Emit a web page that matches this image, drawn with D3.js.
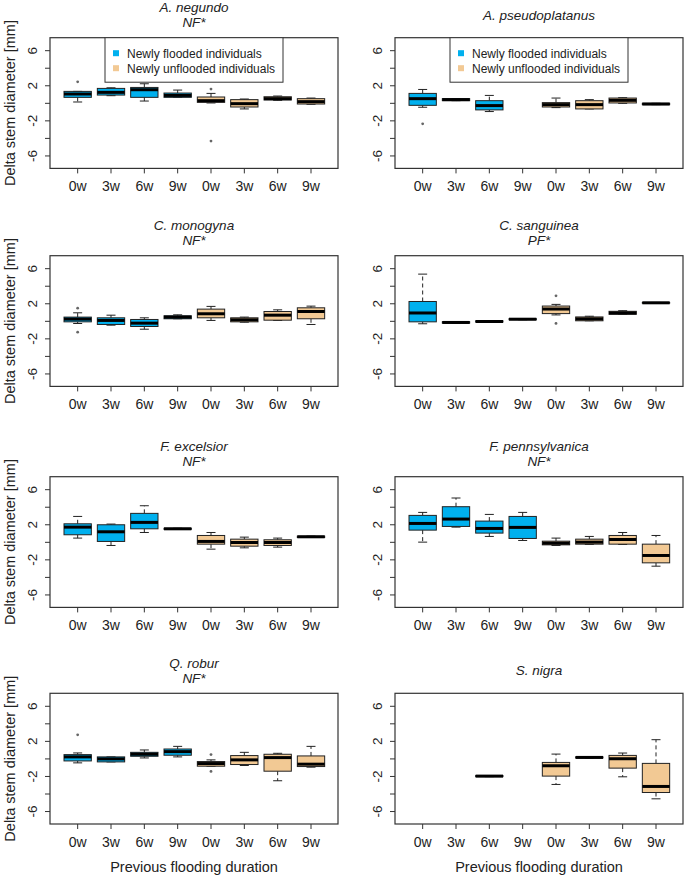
<!DOCTYPE html>
<html><head><meta charset="utf-8">
<script src="https://cdn.jsdelivr.net/npm/d3@7"></script>
<style>body{margin:0;background:#fff}svg{display:block}text{font-family:"Liberation Sans",Arial,sans-serif;fill:#222}</style>
</head><body><svg id="c" width="685" height="876"></svg>
<script>
// Categories
const groups = ["0w","3w","6w","9w","0w","3w","6w","9w"];
const treatment = ["flooded","flooded","flooded","flooded","unflooded","unflooded","unflooded","unflooded"];
const speciesNames = ["A. negundo","A. pseudoplatanus","C. monogyna","C. sanguinea","F. excelsior","F. pennsylvanica","Q. robur","S. nigra"];
const significance = ["NF*","","NF*","PF*","NF*","NF*","NF*",""];
const yTicks = [-6,-4,-2,0,2,4,6];
const yTickLabels = [6,2,-2,-6];
const legendLabels = ["Newly flooded individuals","Newly unflooded individuals"];

// Box statistics per group: [lower whisker, Q1, median, Q3, upper whisker]; null = no data
const negundo = [[0.15,0.68,1.06,1.36,1.36],[0.87,0.94,1.25,1.7,1.77],[0.26,0.68,1.55,1.81,2.23],[0.68,0.68,0.9,1.17,1.51],[0.04,0.11,0.3,0.72,1.13],[-0.64,-0.42,-0.04,0.42,0.49],[0.34,0.38,0.53,0.75,0.83],[-0.11,-0.08,0.19,0.53,0.6]];
const pseudoplatanus = [[-0.45,-0.23,0.53,1.13,1.58],[0.3,0.3,0.42,0.53,0.53],[-0.94,-0.75,-0.26,0.3,0.9],null,[-0.49,-0.42,-0.15,0.08,0.6],[-0.64,-0.64,-0.15,0.3,0.42],[0,0.04,0.34,0.6,0.64],[-0.15,-0.15,-0.08,0,0]];
const monogyna = [[-0.25,-0.06,0.25,0.48,0.97],[-0.44,-0.36,0.1,0.4,0.7],[-0.9,-0.59,-0.21,0.21,0.4],[0.29,0.29,0.48,0.63,0.74],[0.1,0.4,0.86,1.39,1.7],[-0.1,-0.06,0.17,0.4,0.48],[0.1,0.13,0.7,1.12,1.31],[-0.36,0.29,1.12,1.54,1.73]];
const sanguinea = [[-0.28,-0.06,0.95,2.26,5.38],[-0.2,-0.2,-0.13,-0.05,-0.05],[-0.08,-0.08,-0.02,0.05,0.05],[0.18,0.18,0.24,0.3,0.3],[0.73,0.88,1.4,1.74,1.93],[0.06,0.06,0.28,0.5,0.58],[0.8,0.8,0.95,1.14,1.21],[2.07,2.07,2.11,2.15,2.15]];
const excelsior = [[0.48,0.86,1.73,2.11,2.95],[-0.36,0.1,1.2,2.0,2.08],[1.12,1.54,2.27,3.3,4.17],[1.48,1.48,1.54,1.6,1.6],[-0.78,-0.21,0.1,0.78,1.12],[-0.63,-0.44,-0.02,0.36,0.59],[-0.55,-0.36,-0.02,0.29,0.48],[0.55,0.55,0.63,0.7,0.7]];
const pennsylvanica = [[0.02,1.39,2.15,3.07,3.41],[1.73,1.81,2.65,4.06,5.05],[0.67,1.05,1.58,2.42,3.18],[0.21,0.44,1.7,2.95,3.41],[-0.36,-0.29,-0.1,0.13,0.48],[-0.25,-0.21,0.02,0.36,0.67],[-0.25,-0.21,0.32,0.78,1.12],[-2.72,-2.34,-1.5,-0.21,0.78]];
const robur = [[-0.45,-0.23,0.23,0.49,0.68],[-0.34,-0.34,0,0.23,0.23],[0.11,0.3,0.53,0.75,1.02],[0.23,0.42,0.83,1.13,1.43],[-0.83,-0.83,-0.53,-0.3,-0.11],[-0.75,-0.64,-0.11,0.38,0.75],[-2.49,-1.4,0.15,0.53,0.64],[-0.94,-0.87,-0.6,0.34,1.43]];
const nigra = [null,null,[-2.02,-2.02,-1.96,-1.9,-1.9],null,[-2.91,-1.96,-0.78,-0.4,0.55],[0.11,0.11,0.17,0.23,0.23],[-2.04,-1.05,0.02,0.4,0.67],[-4.55,-3.83,-3.14,-0.51,2.19]];
const speciesStats = [negundo,pseudoplatanus,monogyna,sanguinea,excelsior,pennsylvanica,robur,nigra];

// Outliers: [group index (1-8), value]
const negundoOut = [[1,2.45],[5,1.62],[5,-4.3]];
const pseudoplatanusOut = [[1,-2.34]];
const monogynaOut = [[1,1.5],[1,-1.24]];
const sanguineaOut = [[5,2.9],[5,-0.24]];
const excelsiorOut = [];
const pennsylvanicaOut = [];
const roburOut = [[1,2.75],[5,0.49],[5,-1.43]];
const nigraOut = [];
const speciesOut = [negundoOut,pseudoplatanusOut,monogynaOut,sanguineaOut,excelsiorOut,pennsylvanicaOut,roburOut,nigraOut];

const colors = {flooded:"#00b0ee", unflooded:"#f2c994"};

const svg = d3.select("#c");
const colX = [50, 395];
const rowTop = [37.7, 255.7, 476.7, 693.3];
const pw = 288, ph = 130.7;

speciesNames.forEach((name, i) => {
  const col = i % 2, row = Math.floor(i / 2);
  const x0 = colX[col], y0 = rowTop[row];
  const x = d3.scaleLinear().domain([0.17, 8.81]).range([x0, x0 + pw]);
  const y = d3.scaleLinear().domain([-7.42, 7.48]).range([y0 + ph, y0]);
  const g = svg.append("g");
  const stats = speciesStats[i];
  const bw = (x(1.41) - x(1));
  const capW = 9;

  stats.forEach((s, j) => {
    if (!s) return;
    const cx = x(j + 1);
    const [lw, q1, md, q3, uw] = s;
    g.append("line").attr("x1", cx).attr("x2", cx).attr("y1", y(q3)).attr("y2", y(uw))
      .attr("stroke", "#222").attr("stroke-dasharray", "4,3");
    g.append("line").attr("x1", cx).attr("x2", cx).attr("y1", y(q1)).attr("y2", y(lw))
      .attr("stroke", "#222").attr("stroke-dasharray", "4,3");
    [lw, uw].forEach(v => g.append("line").attr("x1", cx - capW / 2).attr("x2", cx + capW / 2)
      .attr("y1", y(v)).attr("y2", y(v)).attr("stroke", "#222"));
    g.append("rect").attr("x", cx - bw).attr("width", bw * 2)
      .attr("y", y(q3)).attr("height", Math.max(0.5, y(q1) - y(q3)))
      .attr("fill", colors[treatment[j]]).attr("stroke", "#222").attr("stroke-width", 1);
    g.append("line").attr("x1", cx - bw).attr("x2", cx + bw).attr("y1", y(md)).attr("y2", y(md))
      .attr("stroke", "#000").attr("stroke-width", 3);
  });
  speciesOut[i].forEach(([gi, v]) => {
    g.append("circle").attr("cx", x(gi)).attr("cy", y(v)).attr("r", 1.4).attr("fill", "#666");
  });

  g.append("rect").attr("x", x0).attr("y", y0).attr("width", pw).attr("height", ph)
    .attr("fill", "none").attr("stroke", "#333").attr("stroke-width", 1.2);

  yTicks.forEach(t => g.append("line").attr("x1", x0 - 5).attr("x2", x0).attr("y1", y(t)).attr("y2", y(t)).attr("stroke", "#333"));
  yTickLabels.forEach(t => g.append("text").attr("transform", `translate(${x0 - 13},${y(t)}) rotate(-90)`)
    .attr("text-anchor", "middle").attr("font-size", 13.5).text(t));

  groups.forEach((lab, j) => {
    const cx = x(j + 1);
    g.append("line").attr("x1", cx).attr("x2", cx).attr("y1", y0 + ph).attr("y2", y0 + ph + 5).attr("stroke", "#333");
    g.append("text").attr("x", cx).attr("y", y0 + ph + 22.5).attr("text-anchor", "middle").attr("font-size", 14).text(lab);
  });

  if (significance[i]) {
    g.append("text").attr("x", x0 + pw / 2).attr("y", y0 - 25.5).attr("text-anchor", "middle").attr("font-size", 13.5).attr("font-style", "italic").text(name);
    g.append("text").attr("x", x0 + pw / 2).attr("y", y0 - 10.5).attr("text-anchor", "middle").attr("font-size", 13.5).attr("font-style", "italic").text(significance[i]);
  } else {
    g.append("text").attr("x", x0 + pw / 2).attr("y", y0 - 18).attr("text-anchor", "middle").attr("font-size", 13.5).attr("font-style", "italic").text(name);
  }

  if (col === 0) {
    g.append("text").attr("transform", `translate(${x0 - 35},${y0 + ph / 2}) rotate(-90)`)
      .attr("text-anchor", "middle").attr("font-size", 14.5).text("Delta stem diameter [mm]");
  }
  if (row === 3) {
    g.append("text").attr("x", x0 + pw / 2).attr("y", 871.5).attr("text-anchor", "middle").attr("font-size", 14.5).text("Previous flooding duration");
  }
  if (row === 0) {
    const lx = x0 + pw / 2 - 89, lw2 = 178;
    g.append("rect").attr("x", lx).attr("y", y0).attr("width", lw2).attr("height", 44.5)
      .attr("fill", "#fff").attr("stroke", "#333").attr("stroke-width", 1);
    legendLabels.forEach((lab, k) => {
      const ly = y0 + 15.5 + k * 15;
      g.append("rect").attr("x", lx + 8).attr("y", ly - 3).attr("width", 6).attr("height", 6)
        .attr("fill", k === 0 ? colors.flooded : colors.unflooded);
      g.append("text").attr("x", lx + 22).attr("y", ly + 4.3).attr("font-size", 12).text(lab);
    });
  }
});
</script></body></html>
